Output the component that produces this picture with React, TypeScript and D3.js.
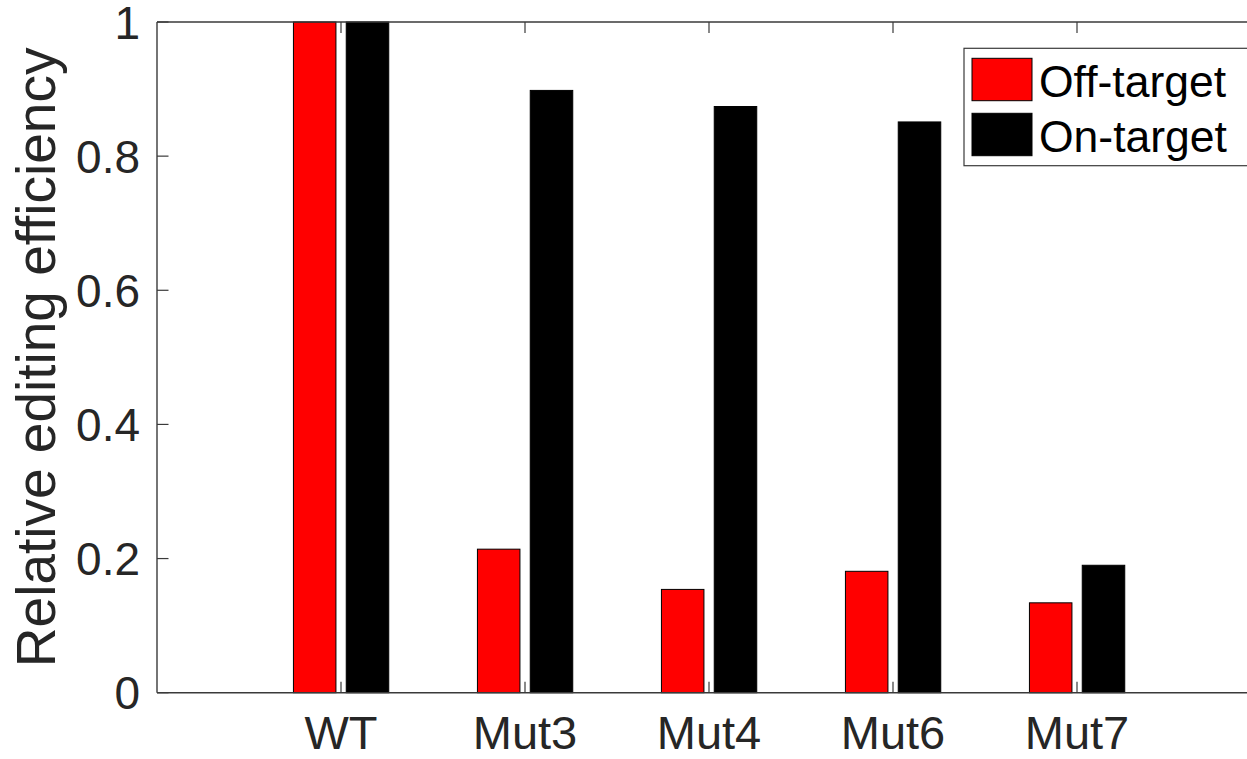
import React from "react";
import * as d3 from "d3";

const categories = ["WT", "Mut3", "Mut4", "Mut6", "Mut7"];
const offTarget = [1.0, 0.214, 0.154, 0.181, 0.134];
const onTarget = [1.0, 0.898, 0.874, 0.851, 0.19];
const yTicks = [0, 0.2, 0.4, 0.6, 0.8, 1];
const yTickLabels = ["0", "0.2", "0.4", "0.6", "0.8", "1"];
const seriesNames = ["Off-target", "On-target"];
const seriesColors = ["#ff0000", "#000000"];

const W = 1247;
const H = 759;
const left = 157;
const top = 22;
const bottom = 692.7;
const unitPx = 184;

export default function App() {
  const x = d3.scaleLinear().domain([0, 6]).range([left, left + 6 * unitPx]);
  const y = d3.scaleLinear().domain([0, 1]).range([bottom, top]);
  const barW = 0.231;
  const offs = [-0.143, 0.144];
  const axisColor = "#3a3a3a";
  const textColor = "#262626";
  const font = "'Liberation Sans', Arial, Helvetica, sans-serif";
  const series = [offTarget, onTarget];

  return (
    <svg
      width={W}
      height={H}
      style={{ position: "absolute", left: 0, top: 0, background: "#fff" }}
      fontFamily={font}
    >
      <rect x={0} y={0} width={W} height={H} fill="#fff" />
      {/* bars */}
      {series.map((vals, s) =>
        vals.map((v, i) => {
          const cx = i + 1 + offs[s];
          const x0 = x(cx - barW / 2);
          const x1 = x(cx + barW / 2);
          return (
            <rect
              key={`${s}-${i}`}
              x={x0}
              y={y(v)}
              width={x1 - x0}
              height={y(0) - y(v)}
              fill={seriesColors[s]}
              stroke="#000"
              strokeWidth={1}
            />
          );
        })
      )}
      {/* axes box */}
      <line x1={left} x2={x(6)} y1={bottom} y2={bottom} stroke={axisColor} strokeWidth={1.4} />
      <line x1={left} x2={x(6)} y1={top} y2={top} stroke={axisColor} strokeWidth={1.4} />
      <line x1={left} x2={left} y1={top} y2={bottom} stroke={axisColor} strokeWidth={1.4} />
      {/* x ticks */}
      {categories.map((c, i) => (
        <g key={c}>
          <line x1={x(i + 1)} x2={x(i + 1)} y1={bottom} y2={bottom - 11} stroke={axisColor} strokeWidth={1.2} />
          <line x1={x(i + 1)} x2={x(i + 1)} y1={top} y2={top + 11} stroke={axisColor} strokeWidth={1.2} />
          <text x={x(i + 1)} y={748.5} textAnchor="middle" fontSize={47} fill={textColor}>
            {c}
          </text>
        </g>
      ))}
      {/* y ticks */}
      {yTicks.map((t, i) => (
        <g key={t}>
          <line x1={left} x2={left + 11.5} y1={y(t)} y2={y(t)} stroke={axisColor} strokeWidth={1.2} />
          <text x={140} y={y(t)} dy="0.36em" textAnchor="end" fontSize={46} fill={textColor}>
            {yTickLabels[i]}
          </text>
        </g>
      ))}
      {/* y label */}
      <text
        transform={`translate(55, ${(top + bottom) / 2}) rotate(-90)`}
        textAnchor="middle"
        fontSize={55}
        fill={textColor}
      >
        Relative editing efficiency
      </text>
      {/* legend */}
      <g>
        <rect x={964} y={48.3} width={290} height={117.4} fill="#fff" stroke={axisColor} strokeWidth={1.2} />
        {seriesNames.map((n, i) => (
          <g key={n}>
            <rect
              x={972}
              y={58.3 + i * 55}
              width={60}
              height={42.4}
              fill={seriesColors[i]}
              stroke="#000"
              strokeWidth={1}
            />
            <text x={1039} y={97.3 + i * 54.5} fontSize={44.5} fill="#000">
              {n}
            </text>
          </g>
        ))}
      </g>
    </svg>
  );
}
